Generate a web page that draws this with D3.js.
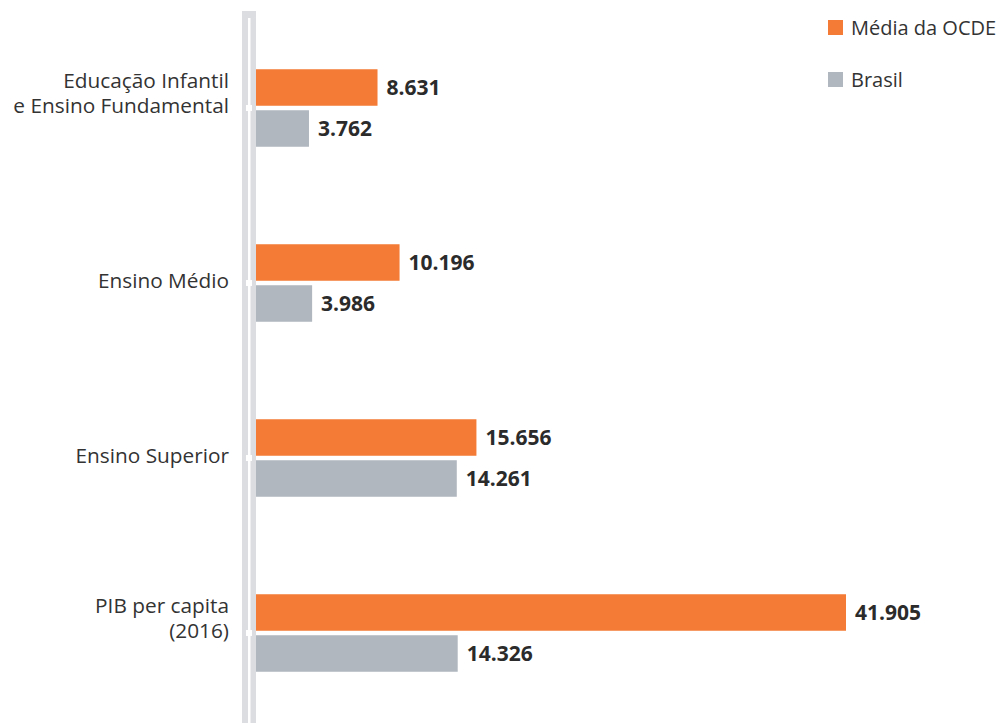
<!DOCTYPE html>
<html><head><meta charset="utf-8">
<script src="https://cdn.jsdelivr.net/npm/d3@7"></script>
<style>
html,body{margin:0;padding:0;background:#fff;}
text{font-family:"Open Sans",Lato,sans-serif;}
</style></head>
<body>
<svg id="chart" width="1001" height="723"></svg>
<script>
const categories = [["Educação Infantil","e Ensino Fundamental"],["Ensino Médio"],["Ensino Superior"],["PIB per capita","(2016)"]];
const seriesNames = ["Média da OCDE","Brasil"];
const ocde = [8631, 10196, 15656, 41905];
const brasil = [3762, 3986, 14261, 14326];
const colors = ["#f47b35", "#b0b7bf"];
const fmt = v => d3.format(",")(v).replace(/,/g, ".");

const svg = d3.select("#chart");
const x = d3.scaleLinear().domain([0, 41905]).range([256, 846]);
const y = d3.scaleBand().domain(d3.range(categories.length)).range([20.5, 720.5]).paddingInner(0).paddingOuter(0);
const barH = 36.5, gap = 4.5;

// axis band
svg.append("rect").attr("x", 242).attr("y", 11).attr("width", 14).attr("height", 712).attr("fill", "#dcdde0");
svg.append("rect").attr("x", 248).attr("y", 18).attr("width", 2.5).attr("height", 705).attr("fill", "#ffffff");

const data = ocde.map((v, i) => ({i, vals: [v, brasil[i]]}));
const g = svg.selectAll("g.grp").data(data).join("g").attr("class", "grp")
  .attr("transform", d => `translate(0,${y(d.i) + y.bandwidth()/2})`);

// ticks
g.append("rect").attr("x", 246).attr("y", -3).attr("width", 6).attr("height", 6).attr("fill", "#fff");

g.each(function(d) {
  const sel = d3.select(this);
  d.vals.forEach((v, k) => {
    const top = k === 0 ? -(barH + gap/2) : gap/2;
    sel.append("rect").attr("x", x(0)).attr("y", top).attr("width", x(v) - x(0)).attr("height", barH).attr("fill", colors[k]);
    sel.append("text").attr("x", x(v) + 9).attr("y", top + barH/2 + 7)
      .attr("font-size", 21).attr("font-weight", 700).attr("fill", "#2b2b2b").text(fmt(v));
  });
  const lines = categories[d.i];
  const lh = 25;
  const txt = sel.append("text").attr("text-anchor", "end").attr("font-size", 20.8).attr("fill", "#333");
  lines.forEach((t, j) => {
    txt.append("tspan").attr("x", 229).attr("y", 5 - (lines.length - 1 - j) * lh).text(t);
  });
});

// legend
const leg = svg.selectAll("g.leg").data(seriesNames).join("g").attr("class", "leg")
  .attr("transform", (d, i) => `translate(828,${20 + i * 52})`);
leg.append("rect").attr("width", 15).attr("height", 15).attr("fill", (d, i) => colors[i]);
leg.append("text").attr("x", 23).attr("y", 14.5).attr("font-size", 20).attr("fill", "#333").text(d => d);
</script>
</body></html>
